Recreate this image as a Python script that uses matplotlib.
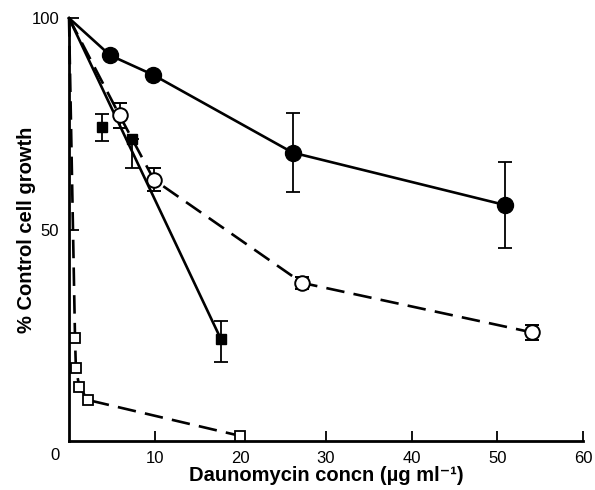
import matplotlib
matplotlib.use("Agg")
import matplotlib.pyplot as plt

plt.rcParams['font.family'] = ['Liberation Sans', 'DejaVu Sans']

# Filled circles (solid line)
fc_x = [0, 4.8, 9.8, 26.1, 50.9]
fc_y = [100, 91.2, 86.6, 68.2, 55.8]
fc_err = [0, 0, 0, 9.3, 10.1]

# Open circles (dashed line)
oc_x = [0, 5.9, 9.9, 27.2, 54.0]
oc_y = [100, 77.0, 61.8, 37.4, 25.7]
oc_err = [0, 3.0, 2.7, 1.5, 1.7]

# Filled squares (solid regression line from origin)
fs_x = [3.85, 7.35, 17.7]
fs_y = [74.2, 71.5, 24.2]
fs_err_lo = [3.2, 7.0, 5.5]
fs_err_hi = [3.2, 0.0, 4.2]

# Open squares (dashed line)
os_x = [0, 0.7, 0.8, 1.2, 2.2, 20.0]
os_y = [100, 24.4, 17.3, 12.8, 9.7, 1.2]

x_ticks = [10, 20, 30, 40, 50, 60]
y_ticks = [50, 100]

fig = plt.figure(figsize=(5.95, 4.9), dpi=100)
ax = fig.add_axes([0.116, 0.100, 0.864, 0.863])

lw = 1.9
dash = (0, (7, 3.5))

# Filled circles
ax.plot(fc_x, fc_y, color='black', lw=lw, zorder=3, clip_on=False)
ax.errorbar(fc_x[1:], fc_y[1:], yerr=fc_err[1:], fmt='o', color='black',
            ms=11.5, mfc='black', mec='black', ecolor='black', elinewidth=1.3,
            capsize=5, capthick=1.3, zorder=4, clip_on=False)

# Open circles
ax.plot(oc_x, oc_y, color='black', lw=lw, linestyle=dash, zorder=3, clip_on=False)
ax.errorbar(oc_x[1:], oc_y[1:], yerr=oc_err[1:], fmt='o', color='black',
            ms=10.5, mfc='white', mec='black', mew=1.4, ecolor='black',
            elinewidth=1.3, capsize=5, capthick=1.3, zorder=5, clip_on=False)

# Filled squares with straight line from origin to last point
ax.plot([0, fs_x[-1]], [100, fs_y[-1]], color='black', lw=lw, zorder=3, clip_on=False)
ax.errorbar(fs_x, fs_y, yerr=[fs_err_lo, fs_err_hi], fmt='s', color='black',
            ms=7.5, mfc='black', mec='black', ecolor='black', elinewidth=1.3,
            capsize=5, capthick=1.3, zorder=4, clip_on=False)

# Open squares
ax.plot(os_x, os_y, color='black', lw=lw, linestyle=dash, zorder=3, clip_on=False)
ax.plot(os_x[1:], os_y[1:], 's', ms=7.5, mfc='white', mec='black', mew=1.3,
        zorder=5, clip_on=False)

ax.set_xlim(0, 60)
ax.set_ylim(0, 100)
for side in ('top', 'right'):
    ax.spines[side].set_visible(False)
for side in ('left', 'bottom'):
    ax.spines[side].set_linewidth(2.0)

ax.set_xticks(x_ticks)
ax.set_yticks(y_ticks)
ax.tick_params(axis='both', direction='in', length=7, width=1.3,
               labelsize=12, pad=7)
ax.text(-1.05, -1.7, '0', ha='right', va='top', fontsize=12,
        transform=ax.transData)

ax.set_xlabel('Daunomycin concn (\u00b5g ml\u207b\u00b9)', fontsize=14.5,
              fontweight='bold')
ax.xaxis.set_label_coords(0.5, -0.060)
ax.set_ylabel('% Control cell growth', fontsize=14.5, fontweight='bold',
              labelpad=-3)

fig.savefig('out.png', dpi=100)
